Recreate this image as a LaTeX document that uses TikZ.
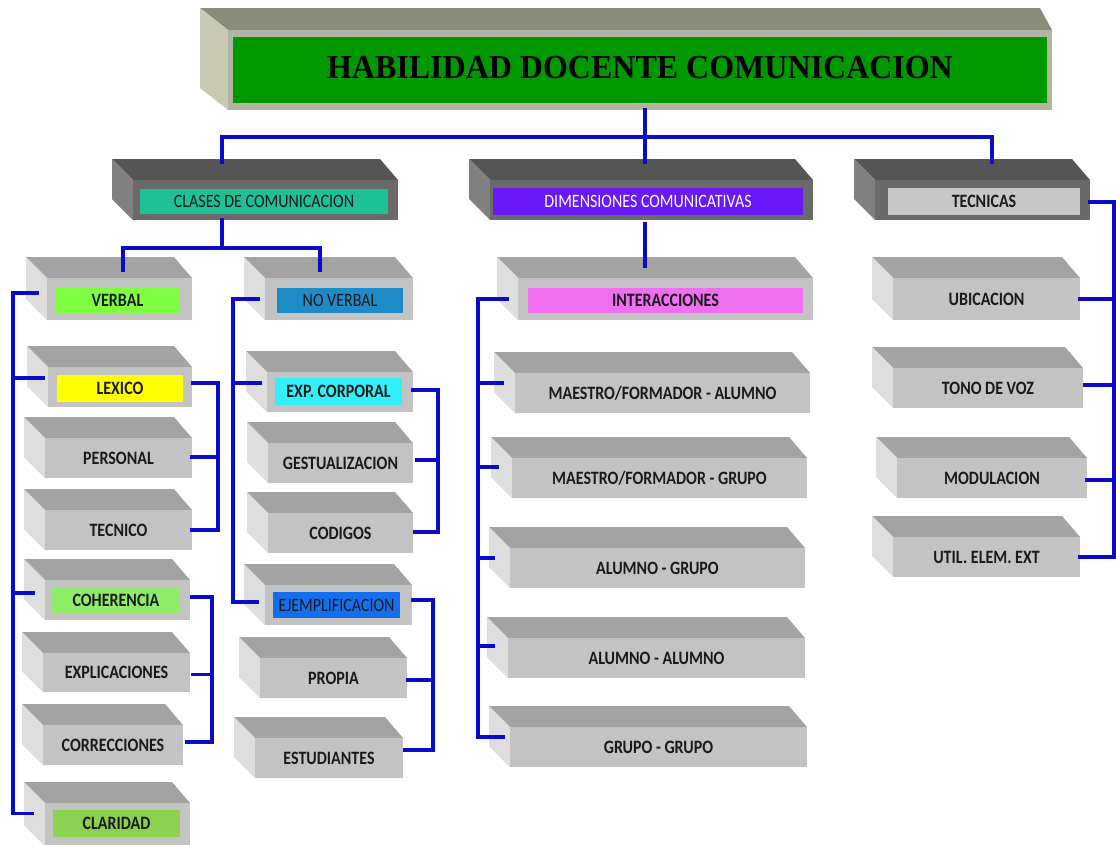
\documentclass[tikz,border=0pt]{standalone}
\usepackage{fontspec}
\setmainfont{Carlito}
\newfontfamily\ttlfont{Liberation Serif}
\usetikzlibrary{fit,calc}

\definecolor{connblue}{RGB}{10,10,205}
\definecolor{ltTop}{RGB}{163,163,163}
\definecolor{ltSide}{RGB}{222,222,222}
\definecolor{ltFront}{RGB}{195,195,195}
\definecolor{dkTop}{RGB}{85,85,85}
\definecolor{dkSide}{RGB}{128,128,128}
\definecolor{dkFront}{RGB}{106,106,106}
\definecolor{tTop}{RGB}{138,140,122}
\definecolor{tSide}{RGB}{200,202,180}
\definecolor{tFront}{RGB}{176,180,160}
\definecolor{tGreen}{RGB}{0,152,0}
\definecolor{cTeal}{RGB}{30,192,150}
\definecolor{cPurple}{RGB}{105,25,245}
\definecolor{cLgray}{RGB}{200,200,200}
\definecolor{cLime}{RGB}{128,255,64}
\definecolor{cNover}{RGB}{30,140,200}
\definecolor{cYellow}{RGB}{255,255,0}
\definecolor{cCyan}{RGB}{50,240,250}
\definecolor{cCoher}{RGB}{144,236,104}
\definecolor{cEjem}{RGB}{20,110,240}
\definecolor{cClar}{RGB}{140,210,80}
\definecolor{cPink}{RGB}{240,110,240}
\definecolor{txt}{RGB}{26,26,26}

\tikzset{
  conn/.style={draw=connblue, line width=3.5pt, line cap=rect},
  lttop/.style={fill=ltTop}, ltside/.style={fill=ltSide},
  ltfront/.style={fill=ltFront, inner sep=0pt},
  dktop/.style={fill=dkTop}, dkside/.style={fill=dkSide},
  dkfront/.style={fill=dkFront, inner sep=0pt},
  lbl/.style={inner sep=0pt, font=\fontsize{16}{18}\selectfont\bfseries, text=txt},
}

\newcommand\TT[1]{\scalebox{1}[1.18]{#1}}
% block: name x1 y1 x2 y2 scheme text
\newcommand\blk[7]{%
  \fill[#6top] (#2,#3) -- (#4,#3) -- (#4-18,#3-21) -- (#2-21,#3-21) -- cycle;
  \fill[#6side] (#2,#3) -- (#2,#5) -- (#2-21,#5-21) -- (#2-21,#3-21) -- cycle;
  \node[#6front, fit={(#2,#3)(#4,#5)}] (#1) {};
  \node[lbl] (#1-t) at (#1.center) {\TT{#7}};
}
% inner label: name x1 y1 x2 y2 fill textcolor text
\newcommand\lab[8]{%
  \node[inner sep=0pt, fill=#6, fit={(#2,#3)(#4,#5)}] (#1) {};
  \node[lbl, text=#7] (#1-t) at (#1.center) {\TT{#8}};
}
\newcommand\lt[4]{\coordinate (#1-l) at ($(#1.west)+(#2,#3)$); \draw[conn] (#1-l) -- (#1-l -| #4);}
\newcommand\rt[4]{\coordinate (#1-r) at ($(#1.east)+(#2,#3)$); \draw[conn] (#1-r) -- (#1-r -| #4);}

\begin{document}
\begin{tikzpicture}[x=1pt,y=-1pt]
\useasboundingbox (0,0) rectangle (1116,844);
\fill[white] (0,0) rectangle (1116,844);

% ---- title
\fill[tTop] (228,30) -- (1052,30) -- (1040,8) -- (200,8) -- cycle;
\fill[tSide] (228,30) -- (228,110) -- (200,88) -- (200,8) -- cycle;
\node[fill=tFront, inner sep=0pt, fit={(228,30)(1052,110)}] (title) {};
\node[fill=tGreen, inner sep=0pt, fit={(233,37)(1047,103)}] (title-l) {};
\node[inner sep=0pt, font=\ttlfont\fontsize{32}{36}\selectfont\bfseries, text=black]
      (title-t) at ([yshift=2pt]title-l.center) {\scalebox{1}[1.05]{HABILIDAD DOCENTE COMUNICACION}};

% ---- level 2
\blk{clases}{133}{180}{398}{220}{dk}{}
\lab{clases-l}{140}{189}{388}{214}{cTeal}{txt}{\mdseries CLASES DE COMUNICACION}
\blk{dim}{490}{180}{813}{220}{dk}{}
\lab{dim-l}{493}{188}{803}{215}{cPurple}{white}{\mdseries DIMENSIONES COMUNICATIVAS}
\blk{tecn}{875}{180}{1090}{220}{dk}{}
\lab{tecn-l}{888}{188}{1080}{215}{cLgray}{txt}{TECNICAS}

% ---- left column
\blk{verbal}{47}{278}{192}{320}{lt}{}
\lab{verbal-lb}{55}{288}{180}{313}{cLime}{txt}{VERBAL}
\blk{lexico}{48}{367}{192}{407}{lt}{}
\lab{lexico-lb}{57}{375}{183}{402}{cYellow}{txt}{LEXICO}
\blk{personal}{45}{438}{192}{478}{lt}{PERSONAL}
\blk{tecnico}{45}{510}{192}{550}{lt}{TECNICO}
\blk{coher}{45}{580}{190}{620}{lt}{}
\lab{coher-lb}{52}{588}{180}{613}{cCoher}{txt}{COHERENCIA}
\blk{explic}{43}{653}{190}{692}{lt}{EXPLICACIONES}
\blk{correc}{43}{725}{183}{765}{lt}{CORRECCIONES}
\blk{claridad}{45}{803}{190}{846}{lt}{}
\lab{claridad-lb}{53}{810}{180}{837}{cClar}{txt}{CLARIDAD}

% ---- no verbal column
\blk{nover}{265}{278}{413}{320}{lt}{}
\lab{nover-lb}{277}{288}{403}{313}{cNover}{txt}{\mdseries NO VERBAL}
\blk{expcorp}{267}{372}{413}{412}{lt}{}
\lab{expcorp-lb}{275}{378}{402}{405}{cCyan}{txt}{EXP. CORPORAL}
\blk{gestual}{268}{443}{413}{483}{lt}{GESTUALIZACION}
\blk{codigos}{268}{513}{413}{553}{lt}{CODIGOS}
\blk{ejempl}{265}{585}{412}{625}{lt}{}
\lab{ejempl-lb}{273}{592}{400}{618}{cEjem}{txt}{\mdseries EJEMPLIFICACION}
\blk{propia}{260}{658}{407}{698}{lt}{PROPIA}
\blk{estud}{255}{738}{403}{778}{lt}{ESTUDIANTES}

% ---- middle column
\blk{inter}{518}{278}{813}{320}{lt}{}
\lab{inter-lb}{528}{288}{803}{313}{cPink}{txt}{INTERACCIONES}
\blk{mfa}{515}{373}{810}{413}{lt}{MAESTRO/FORMADOR - ALUMNO}
\blk{mfg}{512}{458}{807}{498}{lt}{MAESTRO/FORMADOR - GRUPO}
\blk{ag}{510}{548}{805}{588}{lt}{ALUMNO - GRUPO}
\blk{aa}{508}{638}{805}{678}{lt}{ALUMNO - ALUMNO}
\blk{gg}{510}{727}{807}{767}{lt}{GRUPO - GRUPO}

% ---- right column
\blk{ubic}{893}{278}{1080}{320}{lt}{UBICACION}
\blk{tono}{893}{368}{1083}{408}{lt}{TONO DE VOZ}
\blk{modul}{897}{458}{1087}{498}{lt}{MODULACION}
\blk{util}{893}{537}{1080}{577}{lt}{UTIL. ELEM. EXT}

% ---- connectors: top
\coordinate (bus) at (645,137);
\coordinate (clases-in) at (222,162);
\coordinate (dim-in) at (645,162);
\coordinate (tecn-in) at (992,162);
\draw[conn] (title.south -| bus) -- (bus);
\draw[conn] (clases-in |- bus) -- (tecn-in |- bus);
\draw[conn] (clases-in |- bus) -- (clases-in);
\draw[conn] (bus) -- (dim-in);
\draw[conn] (tecn-in |- bus) -- (tecn-in);

% clases -> verbal / no verbal
\coordinate (bus2) at (222,248);
\coordinate (verbal-in) at (123,270);
\coordinate (nover-in) at (320,270);
\draw[conn] (clases.south -| bus2) -- (bus2);
\draw[conn] (verbal-in |- bus2) -- (nover-in |- bus2);
\draw[conn] (verbal-in |- bus2) -- (verbal-in);
\draw[conn] (nover-in |- bus2) -- (nover-in);

% dim -> interacciones
\coordinate (inter-in) at (645,266);
\draw[conn] ([yshift=-4pt]dim.south -| inter-in) -- (inter-in);

% bus x positions
\coordinate (Lb) at (13,0);
\coordinate (Nb) at (233,0);
\coordinate (Ib) at (478,0);
\coordinate (LexB) at (218,0);
\coordinate (CohB) at (212,0);
\coordinate (ExpB) at (438,0);
\coordinate (EjB) at (433,0);
\coordinate (TecB) at (1114,0);

% left bus (verbal)
\lt{verbal}{-10}{-6}{Lb}
\lt{lexico}{-5}{-9}{Lb}
\lt{coher}{-12}{-7}{Lb}
\lt{claridad}{-13}{-11}{Lb}
\draw[conn] (verbal-l -| Lb) -- (claridad-l -| Lb);

% lexico group
\rt{lexico}{1}{-4}{LexB}
\rt{personal}{0}{-1}{LexB}
\rt{tecnico}{0}{0}{LexB}
\draw[conn] (lexico-r -| LexB) -- (tecnico-r -| LexB);

% coherencia group
\rt{coher}{2}{-3}{CohB}
\rt{explic}{3}{2}{CohB}
\rt{correc}{4}{-3}{CohB}
\draw[conn] (coher-r -| CohB) -- (correc-r -| CohB);

% no verbal bus
\lt{nover}{-7}{0}{Nb}
\lt{expcorp}{-7}{-9}{Nb}
\lt{ejempl}{-8}{-3}{Nb}
\draw[conn] (nover-l -| Nb) -- (ejempl-l -| Nb);

% exp corporal group
\rt{expcorp}{0}{-2}{ExpB}
\rt{gestual}{4}{-3}{ExpB}
\rt{codigos}{2}{-1}{ExpB}
\draw[conn] (expcorp-r -| ExpB) -- (codigos-r -| ExpB);

% ejemplificacion group
\rt{ejempl}{1}{-5}{EjB}
\rt{propia}{1}{2}{EjB}
\rt{estud}{2}{-8}{EjB}
\draw[conn] (ejempl-r -| EjB) -- (estud-r -| EjB);

% interacciones bus
\lt{inter}{-11}{0}{Ib}
\lt{mfa}{-13}{-10}{Ib}
\lt{mfg}{-15}{-11}{Ib}
\lt{ag}{-17}{-10}{Ib}
\lt{aa}{-15}{-12}{Ib}
\lt{gg}{-7}{-10}{Ib}
\draw[conn] (inter-l -| Ib) -- (gg-l -| Ib);

% tecnicas bus
\rt{tecn}{0}{2}{TecB}
\rt{ubic}{0}{0}{TecB}
\rt{tono}{2}{-3}{TecB}
\rt{modul}{0}{2}{TecB}
\rt{util}{0}{0}{TecB}
\draw[conn] (tecn-r -| TecB) -- (util-r -| TecB);
\end{tikzpicture}
\end{document}
